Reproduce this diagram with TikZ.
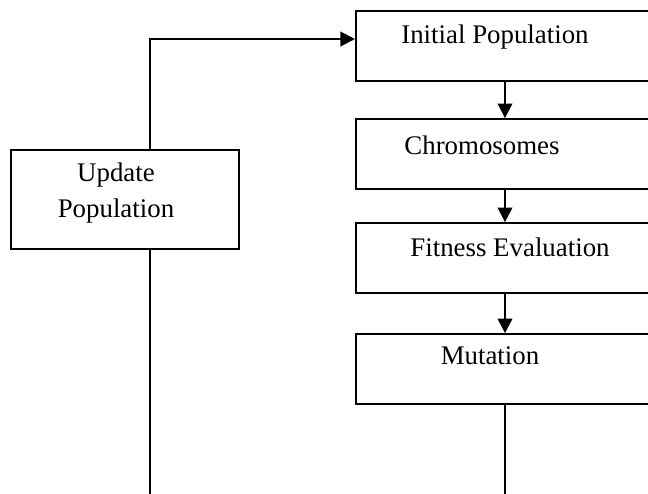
\documentclass[tikz,border=0pt]{standalone}
\usepackage{fontspec}
\setmainfont{Liberation Serif}
\usepackage{tikz}
\usetikzlibrary{arrows.meta, positioning}

\begin{document}
\begin{tikzpicture}[
        x=0.0157cm, y=-0.0157cm,
        % --- TikZ Styles ---
        stagebox/.style={
            draw, line width=0.9pt, minimum width=5.42cm, minimum height=1.1cm,
            inner sep=0pt
        },
        updatebox/.style={
            draw, line width=0.9pt, minimum width=3.58cm, minimum height=1.554cm,
            inner sep=0pt
        },
        lbl/.style={font=\fontsize{12}{16}\selectfont, align=center, inner sep=0pt},
        arrow/.style={line width=0.9pt, -{Triangle[length=6.5pt, width=6.5pt]}},
        link/.style={line width=0.9pt}
    ]

    % --- frame of the page ---
    \clip (0,0) rectangle (648,493);

    % --- 1. MAIN CHAIN ---
    \node[stagebox, anchor=north west] (init) at (355,10) {};
    \node[stagebox, below=0.565cm of init] (chrom) {};
    \node[stagebox, below=0.502cm of chrom] (fitness) {};
    \node[stagebox, below=0.612cm of fitness] (mutation) {};

    % --- 2. FEEDBACK ---
    \node[updatebox, anchor=north west] (update) at (10,149) {};

    % --- TEXTS ---
    \node[lbl] (initTxt) at (495,37) {Initial Population};
    \node[lbl] (chromTxt) at (482,145) {Chromosomes};
    \node[lbl] (fitnessTxt) at (510,247) {Fitness Evaluation};
    \node[lbl] (mutationTxt) at (490,356) {Mutation};
    \node[lbl] (updateTxt) at (116,193) {Update\\Population};

    % --- CONNECTIONS ---
    \coordinate (spine) at (505,0);
    \coordinate (feed) at (150,39);
    \coordinate (loopL) at (150,495);
    \coordinate (loopR) at (505,495);

    % down the chain
    \draw[arrow] (init.south -| spine) -- (chrom.north -| spine);
    \draw[arrow] (chrom.south -| spine) -- (fitness.north -| spine);
    \draw[arrow] (fitness.south -| spine) -- (mutation.north -| spine);

    % back round the loop
    \draw[link] (mutation.south -| spine) -- (loopR) -- (loopL) -- (update.south -| loopL);
    \draw[arrow] (update.north -| feed) -- (feed) -- (init.west |- feed);

\end{tikzpicture}
\end{document}
